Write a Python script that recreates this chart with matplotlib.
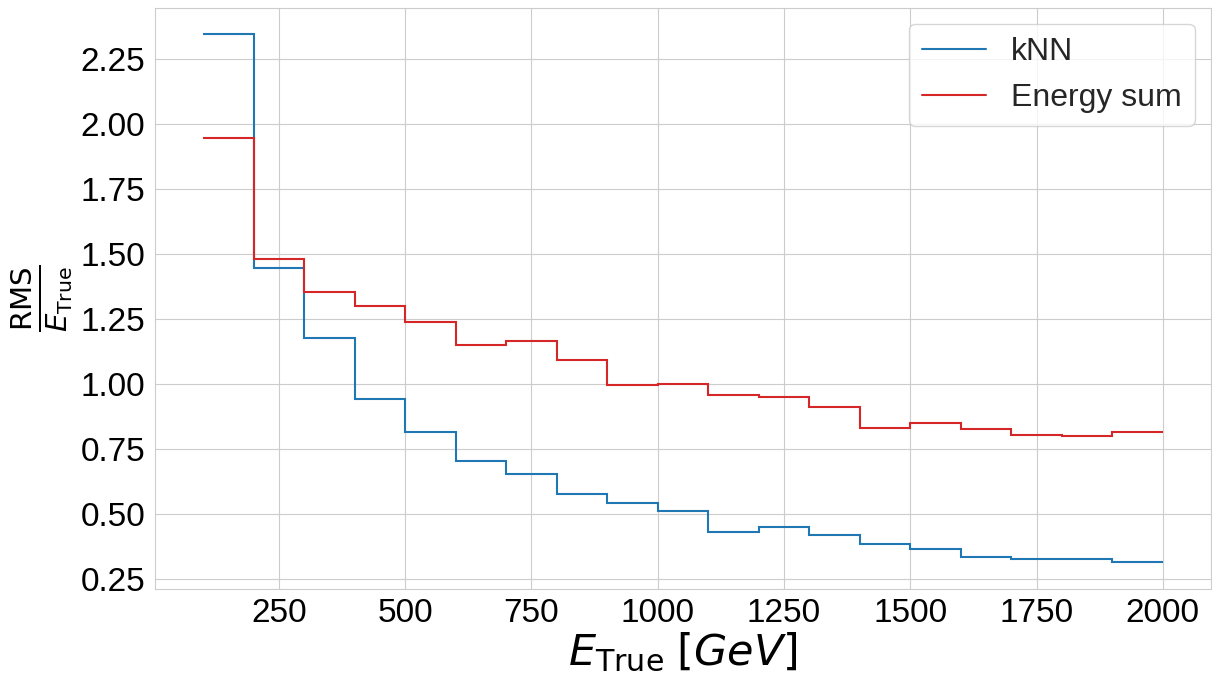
import numpy as np
import matplotlib.pyplot as plt
from matplotlib.ticker import MultipleLocator
import seaborn as sns

sns.set_style('whitegrid')
plt.rcParams['font.family'] = ['Liberation Sans', 'DejaVu Sans']
plt.rcParams['mathtext.fontset'] = 'dejavusans'

# Energy bins (GeV)
bin_edges = np.arange(100, 2001, 100)

# Relative resolution per bin
knn_rms = [2.343, 1.445, 1.178, 0.941, 0.815, 0.704, 0.654, 0.579, 0.543, 0.512,
           0.433, 0.451, 0.421, 0.386, 0.365, 0.337, 0.327, 0.328, 0.316]
esum_rms = [1.946, 1.479, 1.354, 1.302, 1.238, 1.152, 1.166, 1.092, 0.995, 1.001,
            0.960, 0.949, 0.913, 0.832, 0.851, 0.828, 0.803, 0.799, 0.815]

fig, ax = plt.subplots(figsize=(12.12, 6.75), dpi=100)
fig.subplots_adjust(left=0.128, right=0.999, top=0.988, bottom=0.128)

ax.stairs(knn_rms, bin_edges, baseline=None, color='tab:blue', linewidth=1.5, label='kNN')
ax.stairs(esum_rms, bin_edges, baseline=None, color='tab:red', linewidth=1.5, label='Energy sum')
ax.margins(x=0.05, y=0.05)
ax.yaxis.set_major_locator(MultipleLocator(0.25))

ax.tick_params(axis='both', labelsize=24, labelcolor='black')
ax.set_xlabel(r'$E_{\rm True}$ $[GeV]$', fontsize=31, color='black', labelpad=1)
ax.set_ylabel(r'$\frac{{\rm RMS}}{E_{\rm True}}$', fontsize=30, color='black')
ax.legend(loc='upper right', fontsize=23)

plt.savefig('out.png', dpi=100)
